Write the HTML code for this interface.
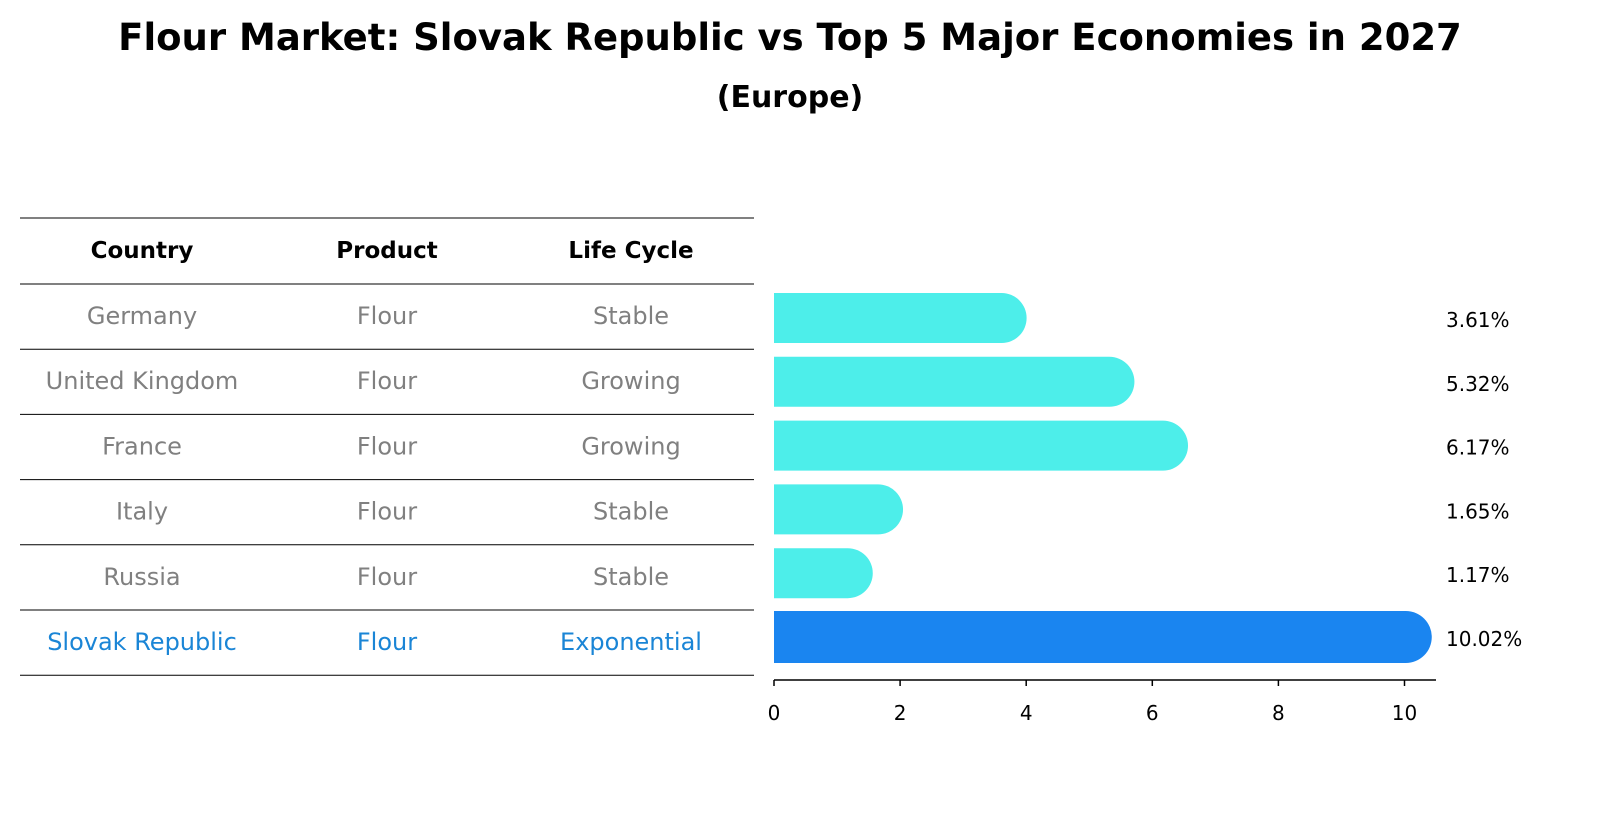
<!DOCTYPE html>
<html><head><meta charset="utf-8"><style>
body{margin:0;background:#fff;font-family:"Liberation Sans","DejaVu Sans",sans-serif}
</style></head><body>
<svg width="1604" height="823" xmlns="http://www.w3.org/2000/svg" font-family="DejaVu Sans, Liberation Sans, sans-serif">
<text x="790" y="50" text-anchor="middle" font-size="37" font-weight="bold">Flour Market: Slovak Republic vs Top 5 Major Economies in 2027</text>
<text x="790" y="107" text-anchor="middle" font-size="30" font-weight="bold">(Europe)</text>
<g id="table"></g>
<g id="bars"></g>
</svg>
<script>
const countries=["Germany","United Kingdom","France","Italy","Russia","Slovak Republic"];
const products=["Flour","Flour","Flour","Flour","Flour","Flour"];
const lifeCycles=["Stable","Growing","Growing","Stable","Stable","Exponential"];
const values=[3.61,5.32,6.17,1.65,1.17,10.02];
const ticks=[0,2,4,6,8,10];
const NS="http://www.w3.org/2000/svg";
function mk(tag,attrs,parent,text){const e=document.createElementNS(NS,tag);for(const k in attrs)e.setAttribute(k,attrs[k]);if(text!==undefined)e.textContent=text;parent.appendChild(e);return e;}
const tbl=document.getElementById('table');
const rowY=i=>316+i*65.2;
const lineYs=[218,284];
for(let i=1;i<=6;i++)lineYs.push(284+i*65.2);
lineYs.forEach(y=>{const l=mk('line',{x1:20,x2:754,y1:y,y2:y,stroke:'#000','stroke-width':1},tbl);

});
const cols=[142,387,631];
["Country","Product","Life Cycle"].forEach((h,j)=>{const t=mk('text',{x:cols[j],y:258,'text-anchor':'middle','font-size':23,'font-weight':'bold'},tbl,h);

});
countries.forEach((c,i)=>{const col=i===countries.length-1?'#1a85d6':'#808080';
[c,products[i],lifeCycles[i]].forEach((v,j)=>{const t=mk('text',{x:cols[j],y:rowY(i)+8,'text-anchor':'middle','font-size':24,fill:col},tbl,v);

});});
const g=document.getElementById('bars');
const x0=774,scale=63.05;
const xs=v=>x0+v*scale;
const barY=i=>318+i*63.8;
values.forEach((v,i)=>{const last=i===values.length-1;const h=last?52:50;const r=h/2;const y=barY(i)-h/2;
const p=mk('path',{d:`M${x0},${y}H${xs(v)}A${r},${r} 0 0 1 ${xs(v)},${y+h}H${x0}Z`,fill:last?'#1a85f0':'#4deeea'},g);


const t=mk('text',{x:1446,y:barY(i)+9,'font-size':20},g,v.toFixed(2)+'%');

});
const ax=mk('line',{x1:774,x2:1436,y1:680,y2:680,stroke:'#000','stroke-width':1.5},g);


ticks.forEach(tv=>{const tl=mk('line',{x1:xs(tv),x2:xs(tv),y1:680,y2:686,stroke:'#000','stroke-width':1.5},g);


const t=mk('text',{x:xs(tv),y:720,'text-anchor':'middle','font-size':20},g,String(tv));

});
</script>
</body></html>
